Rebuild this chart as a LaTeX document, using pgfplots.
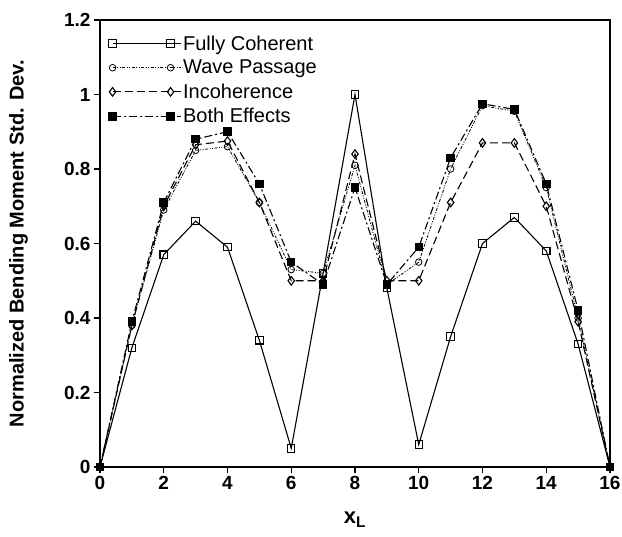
\documentclass[border=0pt]{standalone}
\usepackage{fontspec}
\setmainfont{Liberation Sans}
\usepackage{pgfplots}
\pgfplotsset{compat=1.18}
\begin{document}
\begin{tikzpicture}
\begin{axis}[
  scale only axis,
  width=510pt, height=447pt,
  xmin=0, xmax=16, ymin=0, ymax=1.2,
  xtick={0,2,...,16},
  ytick={0,0.2,0.4,0.6,0.8,1,1.2},
  tick pos=left,
  tick align=outside,
  major tick length=6pt,
  axis line style={line width=1.1pt},
  tick style={line width=1.1pt, black},
  /pgf/number format/assume math mode=true,
  ticklabel style={font=\bfseries\fontsize{19}{21}\selectfont},
  xlabel={\textbf{x}\textsubscript{\textbf{L}}},
  ylabel={Normalized Bending Moment Std. Dev.},
  label style={font=\bfseries\fontsize{20}{22}\selectfont},
  xlabel style={at={(axis description cs:0.5,-0.118)}, anchor=center, font=\bfseries\fontsize{22}{24}\selectfont},
  ylabel style={at={(axis description cs:-0.16,0.5)}, anchor=center},
  legend style={at={(axis description cs:0.017,0.97)}, anchor=north west,
    draw=none, fill=none, font=\fontsize{20}{22}\selectfont, row sep=4.5pt,
    inner sep=0pt},
  legend cell align=left,
  legend image code/.code={\draw plot coordinates {(0pt,0pt) (58pt,0pt)};
    \path (0pt,0pt) -- (68pt,0pt);},
  every axis plot/.append style={line width=1.1pt, black},
]
\addplot[solid, mark=square, mark size=3.7pt, mark options={solid, fill=white}] coordinates {
(0,0) (1,0.32) (2,0.57) (3,0.66) (4,0.59) (5,0.34) (6,0.05) (7,0.52) (8,1.00)
(9,0.48) (10,0.06) (11,0.35) (12,0.60) (13,0.67) (14,0.58) (15,0.33) (16,0)};
\addlegendentry{Fully Coherent}
\addplot[dash pattern=on 3pt off 1.5pt on 1pt off 1.5pt on 1pt off 1.5pt, line width=0.8pt, mark=o, mark size=3.3pt, mark options={solid, fill=white}] coordinates {
(0,0) (1,0.38) (2,0.69) (3,0.85) (4,0.86) (5,0.71) (6,0.53) (7,0.52) (8,0.81)
(9,0.49) (10,0.55) (11,0.80) (12,0.97) (13,0.955) (14,0.75) (15,0.40) (16,0)};
\addlegendentry{Wave Passage}
\addplot[dash pattern=on 8pt off 4pt, mark=diamond, mark size=4.3pt, mark options={solid, fill=white}] coordinates {
(0,0) (1,0.38) (2,0.70) (3,0.865) (4,0.875) (5,0.71) (6,0.50) (7,0.50) (8,0.84)
(9,0.50) (10,0.50) (11,0.71) (12,0.87) (13,0.87) (14,0.70) (15,0.39) (16,0)};
\addlegendentry{Incoherence}
\addplot[dash pattern=on 8pt off 3pt on 2pt off 3pt, mark=square*, mark size=3.7pt, mark options={solid}] coordinates {
(0,0) (1,0.39) (2,0.71) (3,0.88) (4,0.90) (5,0.76) (6,0.55) (7,0.49) (8,0.75)
(9,0.49) (10,0.59) (11,0.83) (12,0.975) (13,0.96) (14,0.76) (15,0.42) (16,0)};
\addlegendentry{Both Effects}
\end{axis}
\pgfresetboundingbox
\path ([xshift=-100pt,yshift=-70pt]current axis.south west) rectangle ([xshift=12pt,yshift=20pt]current axis.north east);
\end{tikzpicture}
\end{document}
